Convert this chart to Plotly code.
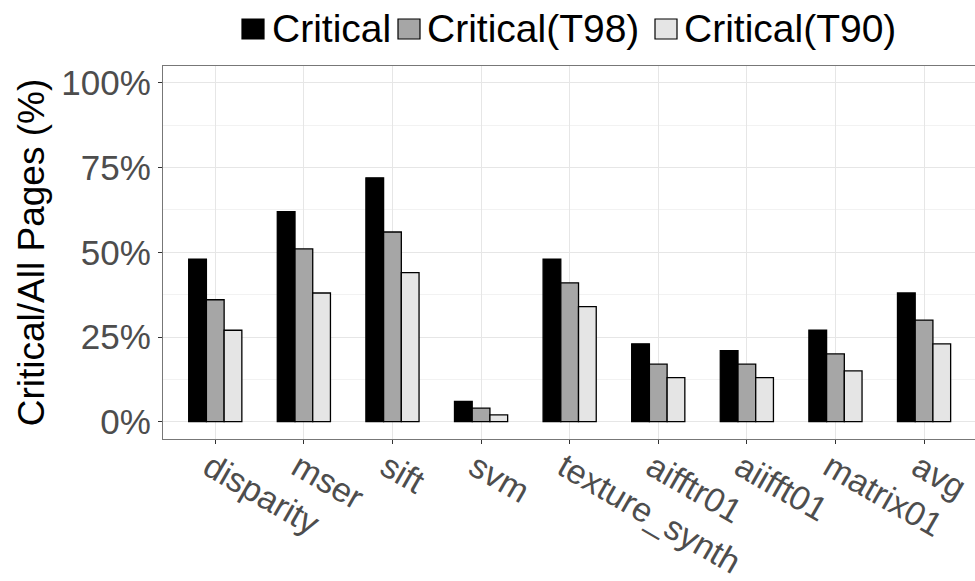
import plotly.graph_objects as go

# Benchmarks and share of critical pages (%) under each threshold
benchmarks = ["disparity", "mser", "sift", "svm", "texture_synth",
              "aifftr01", "aiifft01", "matrix01", "avg"]
critical = [48, 62, 72, 6, 48, 23, 21, 27, 38]
critical_t98 = [36, 51, 56, 4, 41, 17, 17, 20, 30]
critical_t90 = [27, 38, 44, 2, 34, 13, 13, 15, 23]

series_names = ["Critical", "Critical(T98)", "Critical(T90)"]
series_values = [critical, critical_t98, critical_t90]
series_colors = ["#000000", "#A6A6A6", "#E5E5E5"]

y_ticks = [0, 25, 50, 75, 100]
y_tick_labels = ["0%", "25%", "50%", "75%", "100%"]

FONT = "Liberation Sans, Arial, sans-serif"
W, H = 975, 581
ML, MT, MB = 163, 66, 142
PW = W - ML
PH = H - MT - MB

fig = go.Figure()
for name, vals, col in zip(series_names, series_values, series_colors):
    fig.add_trace(go.Bar(
        x=benchmarks, y=vals, name=name,
        marker=dict(color=col, line=dict(color="#000000", width=1.3)),
        showlegend=False,
    ))


def px_x(p):
    return (p - ML) / PW


def px_y(p):
    return (H - MB - p) / PH


# Legend drawn along the top: filled key squares followed by labels
key_left = [242, 398, 655]
text_left = [270, 425, 682]
for name, col, kx, tx in zip(series_names, series_colors, key_left, text_left):
    fig.add_shape(type="rect", xref="paper", yref="paper",
                  x0=px_x(kx), x1=px_x(kx + 22), y0=px_y(39), y1=px_y(19),
                  fillcolor=col, line=dict(color="#000000", width=1.2))
    fig.add_annotation(text=name, xref="paper", yref="paper",
                       x=px_x(tx), y=px_y(29), xanchor="left", yanchor="middle",
                       showarrow=False,
                       font=dict(family=FONT, size=39, color="#000000"))

fig.update_layout(
    width=W, height=H,
    margin=dict(l=ML, r=0, t=MT, b=MB, autoexpand=False),
    paper_bgcolor="white", plot_bgcolor="white",
    barmode="group", bargap=0.4, bargroupgap=0,
    font=dict(family=FONT),
)

fig.update_xaxes(
    range=[-0.59, 8.575],
    showgrid=True, gridcolor="#E6E6E6", gridwidth=1.3,
    showline=True, linecolor="#777777", linewidth=1.4, mirror=True,
    ticks="outside", ticklen=4, tickcolor="#333333", tickwidth=1.2,
    tickangle=30, ticklabelstandoff=-10, ticklabelshift=-6,
    tickfont=dict(family=FONT, size=34, color="#4D4D4D"),
)

fig.update_yaxes(
    range=[-5.1, 105],
    tickmode="array", tickvals=y_ticks, ticktext=y_tick_labels,
    showgrid=True, gridcolor="#E6E6E6", gridwidth=1.3,
    minor=dict(dtick=12.5, tick0=0, showgrid=True, gridcolor="#F2F2F2", gridwidth=1),
    zeroline=False,
    showline=True, linecolor="#777777", linewidth=1.4, mirror=False,
    ticks="outside", ticklen=4, tickcolor="#333333", tickwidth=1.2,
    tickfont=dict(family=FONT, size=35, color="#4D4D4D"),
    title=dict(text="Critical/All Pages (%)", standoff=5,
               font=dict(family=FONT, size=37, color="#000000")),
)

fig.write_html("out.html")
